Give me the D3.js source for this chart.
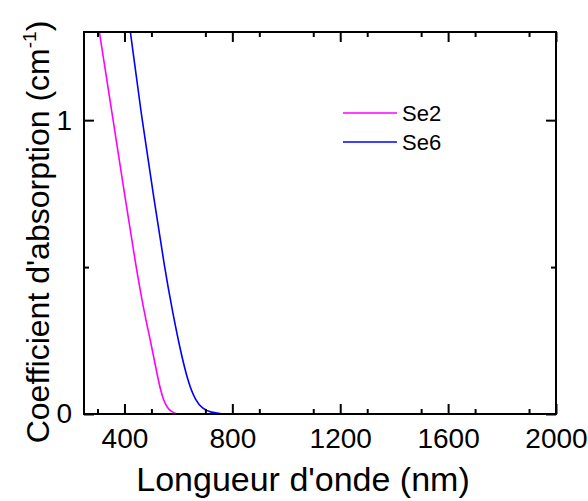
<!DOCTYPE html>
<html><head><meta charset="utf-8">
<script src="https://cdn.jsdelivr.net/npm/d3@7"></script>
<style>body{margin:0;background:#fff}svg{display:block}text{font-family:"Liberation Sans",Arial,sans-serif;fill:#000}</style>
</head><body>
<script>
const se2X = [307, 358, 400, 443, 470, 504, 526, 544, 560, 575, 596];
const se2Y = [1.3, 1.0, 0.75, 0.5, 0.36, 0.217, 0.11, 0.047, 0.02, 0.007, 0];
const se6X = [422, 465, 510, 550, 578, 607, 637, 663, 689, 720, 767];
const se6Y = [1.3, 1.0, 0.73, 0.49, 0.35, 0.217, 0.105, 0.047, 0.018, 0.005, 0];
const xTicks = [400, 800, 1200, 1600, 2000];
const yTicks = [0, 1];
const seriesNames = ["Se2", "Se6"];
const seriesColors = ["#ff00ff", "#0000ff"];

const W = 588, H = 501;
const m = {l: 84, r: 32, t: 32, b: 87};
const svg = d3.select("body").append("svg").attr("width", W).attr("height", H);
const x = d3.scaleLinear().domain([250, 2000]).range([m.l, W - m.r]);
const y = d3.scaleLinear().domain([0, 1.3]).range([H - m.b, m.t]);

svg.append("clipPath").attr("id", "c").append("rect")
  .attr("x", m.l).attr("y", m.t).attr("width", W - m.r - m.l).attr("height", H - m.b - m.t);

const line = d3.line().x(d => x(d[0])).y(d => y(d[1])).curve(d3.curveBasis);
const data = [d3.zip(se2X, se2Y), d3.zip(se6X, se6Y)];
data.forEach((d, i) => {
  svg.append("path").attr("d", line(d)).attr("fill", "none")
    .attr("stroke", seriesColors[i]).attr("stroke-width", 1.6).attr("clip-path", "url(#c)");
});

const minorX = d3.range(300, 2000, 200);
const minorY = [0.5];
function styleAxis(g) {
  g.select(".domain").remove();
  g.selectAll("line").attr("stroke", "#000").attr("stroke-width", 2);
}
// bottom
svg.append("g").attr("transform", `translate(0,${H - m.b})`)
  .call(d3.axisBottom(x).tickValues(xTicks).tickSize(-10).tickPadding(14).tickFormat(d3.format("d")))
  .call(styleAxis).selectAll("text").attr("font-size", 28).attr("font-family", "Liberation Sans");
svg.append("g").attr("transform", `translate(0,${H - m.b})`)
  .call(d3.axisBottom(x).tickValues(minorX).tickSize(-5).tickFormat(""))
  .call(styleAxis);
// top
svg.append("g").attr("transform", `translate(0,${m.t})`)
  .call(d3.axisTop(x).tickValues(xTicks).tickSize(-10).tickFormat(""))
  .call(styleAxis);
svg.append("g").attr("transform", `translate(0,${m.t})`)
  .call(d3.axisTop(x).tickValues(minorX).tickSize(-5).tickFormat(""))
  .call(styleAxis);
// left
svg.append("g").attr("transform", `translate(${m.l},0)`)
  .call(d3.axisLeft(y).tickValues(yTicks).tickSize(-10).tickPadding(12).tickFormat(d3.format("d")))
  .call(styleAxis).selectAll("text").attr("font-size", 28).attr("font-family", "Liberation Sans");
svg.append("g").attr("transform", `translate(${m.l},0)`)
  .call(d3.axisLeft(y).tickValues(minorY).tickSize(-5).tickFormat(""))
  .call(styleAxis);
// right
svg.append("g").attr("transform", `translate(${W - m.r},0)`)
  .call(d3.axisRight(y).tickValues(yTicks).tickSize(-10).tickFormat(""))
  .call(styleAxis);
svg.append("g").attr("transform", `translate(${W - m.r},0)`)
  .call(d3.axisRight(y).tickValues(minorY).tickSize(-5).tickFormat(""))
  .call(styleAxis);

svg.append("rect").attr("x", m.l).attr("y", m.t).attr("width", W - m.r - m.l).attr("height", H - m.b - m.t)
  .attr("fill", "none").attr("stroke", "#000").attr("stroke-width", 2);

// legend
seriesNames.forEach((n, i) => {
  const ly = 113 + i * 29;
  svg.append("line").attr("x1", 343).attr("x2", 397).attr("y1", ly).attr("y2", ly)
    .attr("stroke", seriesColors[i]).attr("stroke-width", 1.6);
  svg.append("text").attr("x", 402).attr("y", ly + 8).attr("font-size", 22).text(n);
});

// axis titles
svg.append("text").attr("x", 303).attr("y", 491).attr("text-anchor", "middle")
  .attr("font-size", 34).text("Longueur d'onde (nm)");
const yt = svg.append("text").attr("transform", `translate(49,232) rotate(-90)`)
  .attr("text-anchor", "middle").attr("font-size", 32);
yt.append("tspan").text("Coefficient d'absorption (cm");
yt.append("tspan").attr("font-size", 19).attr("dy", -13).text("-1");
yt.append("tspan").attr("dy", 13).text(")");
</script>
</body></html>
